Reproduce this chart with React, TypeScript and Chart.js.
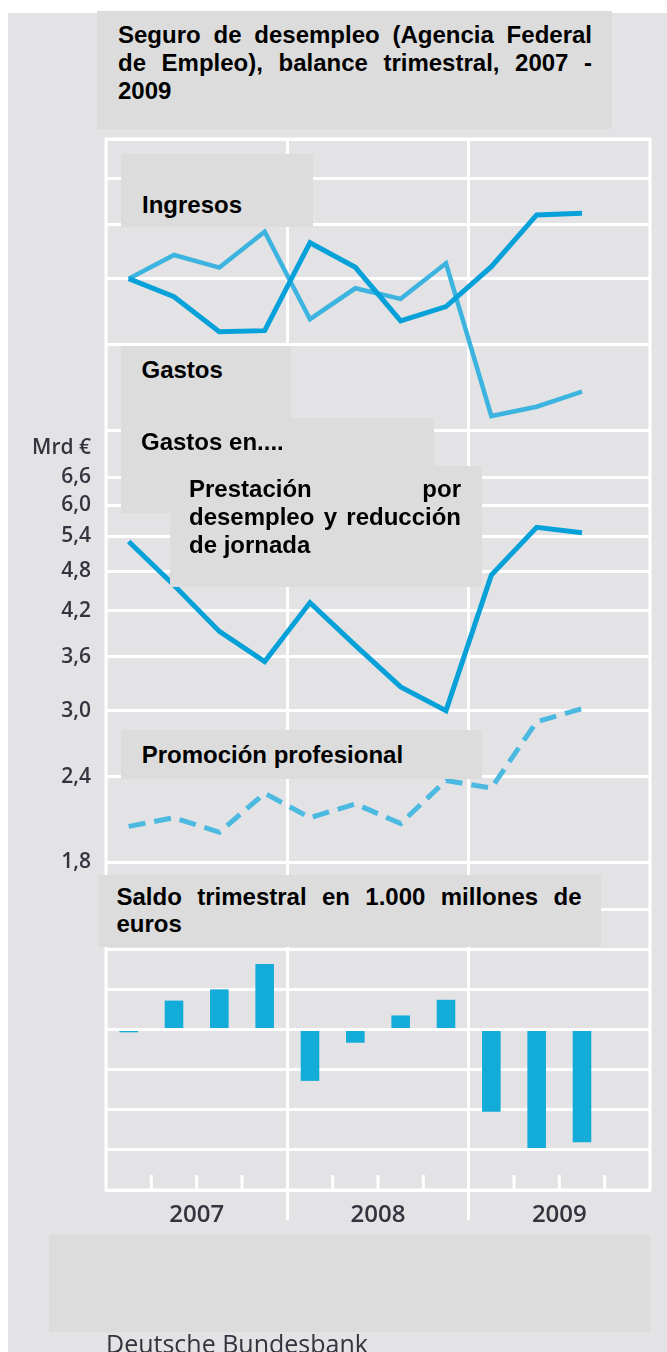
import React, { useEffect, useRef } from 'react';
import { Chart, registerables } from 'chart.js';

Chart.register(...registerables);

// ---------- data ----------
const quarters = [
  '2007 T1', '2007 T2', '2007 T3', '2007 T4',
  '2008 T1', '2008 T2', '2008 T3', '2008 T4',
  '2009 T1', '2009 T2', '2009 T3', '2009 T4',
];
const years = ['2007', '2008', '2009'];

// Mrd €, upper panel (log scale)
const ingresos = [10.0, 10.83, 10.38, 11.72, 8.72, 9.68, 9.34, 10.53, 6.29, 6.49, 6.83, null];
const gastos = [10.0, 9.41, 8.36, 8.39, 11.29, 10.39, 8.67, 9.1, 10.41, 12.4, 12.47, null];

// Mrd €, middle panel (log scale)
const prestacion = [5.31, 4.58, 3.92, 3.54, 4.32, 3.74, 3.25, 3.0, 4.74, 5.57, 5.47, null];
const promocion = [2.03, 2.09, 1.99, 2.27, 2.09, 2.19, 2.05, 2.37, 2.31, 2.89, 3.02, null];

// quarterly balance, 1.000 millones de euros
const saldo = [-0.07, 0.72, 1.0, 1.63, -1.28, -0.33, 0.35, 0.74, -2.05, -2.95, -2.81, null];

const topTicks = [6, 8, 10, 12, 14, 16];
const midTicks = [1.8, 2.4, 3.0, 3.6, 4.2, 4.8, 5.4, 6.0, 6.6];
const barTicks = [-4, -3, -2, -1, 0, 1, 2, 3];

// ---------- layout ----------
const W = 667;
const H = 1352;
const AREA = { left: 106, right: 650, top: 139, bottom: 1190 };
const Y_AXIS_W = 50;
const X_AXIS_H = 60;
const PX_PER_LN = 296.3;
const TOP_REF = { v: 6, y: 430 };
const MID_REF = { v: 1.8, y: 862 };
const BAR_REF = { zeroY: 1029.5, unitPx: 40.14 };

const logRange = (ref: { v: number; y: number }) => ({
  min: ref.v * Math.exp(-(AREA.bottom - ref.y) / PX_PER_LN),
  max: ref.v * Math.exp((ref.y - AREA.top) / PX_PER_LN),
});
const topRange = logRange(TOP_REF);
const midRange = logRange(MID_REF);
const barRange = {
  min: -(AREA.bottom - BAR_REF.zeroY) / BAR_REF.unitPx,
  max: (BAR_REF.zeroY - AREA.top) / BAR_REF.unitPx,
};

const PANEL_BG = '#e3e3e5';
const BOX_BG = '#dcdcdc';
const DARK_BLUE = '#07a1d9';
const LIGHT_BLUE = '#3db4df';
const DASH_BLUE = '#4cb9e1';
const BAR_BLUE = '#13acd9';
const LABEL_COLOR = '#34343f';
const LABEL_FONT = '"Open Sans", "Noto Sans", sans-serif';
const BOLD_FONT = '"Liberation Sans", Arial, sans-serif';

const framePlugin = {
  id: 'frame',
  beforeDatasetsDraw(chart: any) {
    const { ctx, chartArea } = chart;
    const xs = chart.scales.x;
    ctx.save();
    ctx.strokeStyle = '#ffffff';
    ctx.lineWidth = 3;
    ctx.strokeRect(chartArea.left, chartArea.top, chartArea.right - chartArea.left, chartArea.bottom - chartArea.top);
    // small quarter ticks along the bottom edge
    for (let i = 1; i < quarters.length; i++) {
      if (i % 4 === 0) continue;
      const x = (xs.getPixelForValue(i - 1) + xs.getPixelForValue(i)) / 2;
      ctx.beginPath();
      ctx.moveTo(x, chartArea.bottom - 15);
      ctx.lineTo(x, chartArea.bottom);
      ctx.stroke();
    }
    ctx.restore();
  },
};

function ChartCanvas() {
  const ref = useRef<HTMLCanvasElement | null>(null);
  useEffect(() => {
    if (!ref.current) return;
    const hiddenAxis = (extra: any) => ({
      position: 'right',
      ticks: { display: false, autoSkip: false },
      grid: { color: '#ffffff', lineWidth: 3, drawTicks: false },
      border: { display: false },
      afterFit: (s: any) => { s.width = 0; },
      ...extra,
    });
    const chart = new Chart(ref.current, {
      type: 'bar',
      data: {
        labels: quarters,
        datasets: [
          {
            type: 'line', label: 'Gastos', data: gastos, yAxisID: 'yTop', xAxisID: 'x',
            borderColor: DARK_BLUE, borderWidth: 5, pointRadius: 0, tension: 0,
          } as any,
          {
            type: 'line', label: 'Ingresos', data: ingresos, yAxisID: 'yTop', xAxisID: 'x',
            borderColor: LIGHT_BLUE, borderWidth: 4.5, pointRadius: 0, tension: 0,
          } as any,
          {
            type: 'line', label: 'Prestación por desempleo y reducción de jornada', data: prestacion,
            yAxisID: 'yMid', xAxisID: 'x',
            borderColor: DARK_BLUE, borderWidth: 5, pointRadius: 0, tension: 0,
          } as any,
          {
            type: 'line', label: 'Promoción profesional', data: promocion, yAxisID: 'yMid', xAxisID: 'x',
            borderColor: DASH_BLUE, borderWidth: 5, borderDash: [17, 9], pointRadius: 0, tension: 0,
          } as any,
          {
            type: 'bar', label: 'Saldo trimestral', data: saldo, yAxisID: 'yBar', xAxisID: 'x',
            backgroundColor: BAR_BLUE, barPercentage: 1, categoryPercentage: 0.41,
          } as any,
        ],
      },
      options: {
        responsive: false,
        maintainAspectRatio: false,
        animation: false,
        layout: {
          padding: {
            left: AREA.left - Y_AXIS_W,
            right: W - AREA.right,
            top: AREA.top,
            bottom: H - AREA.bottom - X_AXIS_H,
          },
        },
        plugins: { legend: { display: false }, tooltip: { enabled: false } },
        scales: {
          x: { type: 'category', display: false, offset: true },
          xYear: {
            type: 'category',
            labels: years,
            position: 'bottom',
            offset: true,
            grid: {
              offset: true,
              lineWidth: 3,
              tickLength: 30,
              color: (c: any) => (c.type !== 'tick' || c.index === 0 ? 'rgba(0,0,0,0)' : '#ffffff'),
            },
            border: { display: false },
            ticks: {
              autoSkip: false,
              maxRotation: 0,
              padding: -19,
              color: LABEL_COLOR,
              font: { family: LABEL_FONT, size: 24, weight: '600' },
            },
            afterFit: (s: any) => { s.height = X_AXIS_H; },
          },
          yMid: {
            type: 'logarithmic',
            position: 'left',
            min: midRange.min,
            max: midRange.max,
            afterBuildTicks: (s: any) => { s.ticks = midTicks.map((v) => ({ value: v })); },
            afterFit: (s: any) => { s.width = Y_AXIS_W; },
            grid: { color: '#ffffff', lineWidth: 3, drawTicks: false },
            border: { display: false },
            ticks: {
              autoSkip: false,
              padding: 15,
              color: LABEL_COLOR,
              font: { family: LABEL_FONT, size: 21, weight: '600' },
              callback: (v: any) => Number(v).toFixed(1).replace('.', ','),
            },
          },
          yTop: hiddenAxis({
            type: 'logarithmic',
            min: topRange.min,
            max: topRange.max,
            afterBuildTicks: (s: any) => { s.ticks = topTicks.map((v) => ({ value: v })); },
          }),
          yBar: hiddenAxis({
            type: 'linear',
            min: barRange.min,
            max: barRange.max,
            afterBuildTicks: (s: any) => { s.ticks = barTicks.map((v) => ({ value: v })); },
          }),
        } as any,
      },
      plugins: [framePlugin],
    });
    return () => chart.destroy();
  }, []);
  return <canvas ref={ref} width={W} height={H} style={{ position: 'absolute', left: 0, top: 0 }} />;
}

type BoxProps = {
  left: number; top: number; width: number; height: number;
  padLeft: number; padTop: number; textWidth: number; lineHeight?: number;
  children?: React.ReactNode;
};

function Box({ left, top, width, height, padLeft, padTop, textWidth, lineHeight = 28, children }: BoxProps) {
  return (
    <div style={{ position: 'absolute', left, top, width, height, background: BOX_BG }}>
      {children ? (
        <div
          style={{
            position: 'absolute', left: padLeft, top: padTop, width: textWidth,
            fontFamily: BOLD_FONT, fontWeight: 700, fontSize: 24, lineHeight: `${lineHeight}px`,
            color: '#000', textAlign: 'justify',
          }}
        >
          {children}
        </div>
      ) : null}
    </div>
  );
}

export default function App() {
  return (
    <div style={{ position: 'absolute', left: 0, top: 0, width: W, height: H, background: '#ffffff', overflow: 'hidden' }}>
      <div style={{ position: 'absolute', left: 8, top: 13, width: W - 8, height: H - 13, background: PANEL_BG }} />
      <ChartCanvas />
      <div
        style={{
          position: 'absolute', left: 0, top: 436, width: 91, textAlign: 'right',
          fontFamily: LABEL_FONT, fontSize: 21, fontWeight: 600, lineHeight: '21px', color: LABEL_COLOR,
        }}
      >
        Mrd €
      </div>
      <Box left={97} top={11} width={515} height={118} padLeft={21} padTop={10} textWidth={474}>
        Seguro de desempleo (Agencia Federal de Empleo), balance trimestral, 2007 - 2009
      </Box>
      <Box left={121} top={154} width={192} height={73} padLeft={21} padTop={37} textWidth={165}>
        Ingresos
      </Box>
      <Box left={121} top={346} width={170} height={72} padLeft={20.5} padTop={10} textWidth={140}>
        Gastos
      </Box>
      <Box left={121} top={418} width={313} height={95} padLeft={20} padTop={9.7} textWidth={280}>
        Gastos en....
      </Box>
      <Box left={170} top={466} width={312} height={121} padLeft={19} padTop={9} textWidth={272}>
        Prestación por desempleo y reducción de jornada
      </Box>
      <Box left={121} top={730} width={361} height={48.5} padLeft={20.7} padTop={11} textWidth={330}>
        Promoción profesional
      </Box>
      <Box left={98} top={875} width={503} height={72} padLeft={18.5} padTop={8.2} textWidth={465} lineHeight={27}>
        Saldo trimestral en 1.000 millones de euros
      </Box>
      <Box left={49} top={1235} width={601} height={97} padLeft={0} padTop={0} textWidth={0} />
      <div
        style={{
          position: 'absolute', left: 106, top: 1331, whiteSpace: 'nowrap',
          fontFamily: LABEL_FONT, fontSize: 25, lineHeight: '25px', color: LABEL_COLOR,
        }}
      >
        Deutsche Bundesbank
      </div>
    </div>
  );
}
